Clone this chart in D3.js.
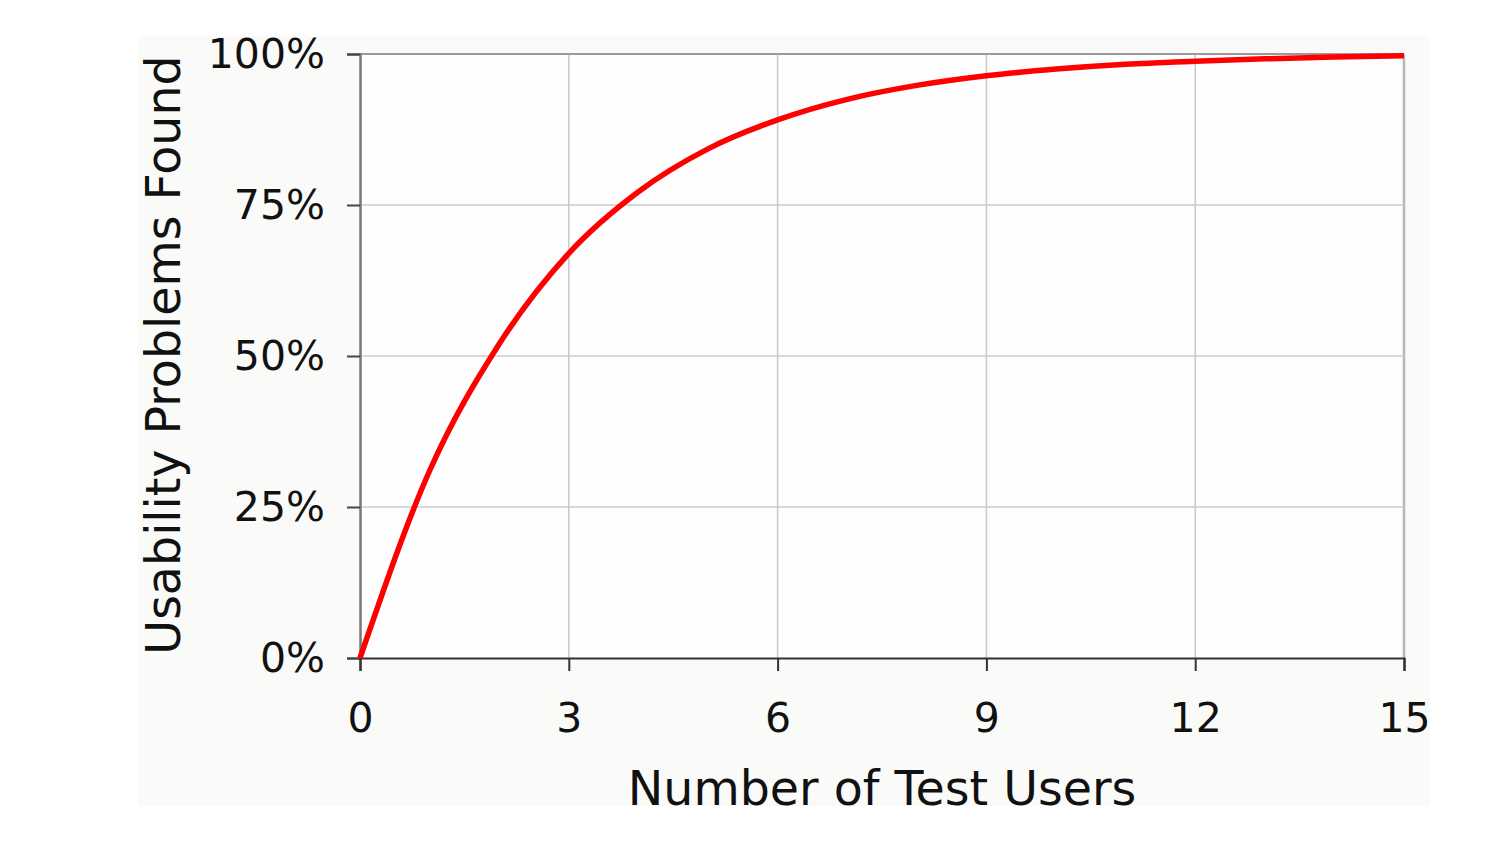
<!DOCTYPE html>
<html>
<head>
<meta charset="utf-8">
<script src="https://cdn.jsdelivr.net/npm/d3@7"></script>
<style>
  html, body { margin: 0; padding: 0; background: #ffffff; }
  svg { display: block; }
  text { font-family: "DejaVu Sans", Verdana, sans-serif; fill: #111; }
</style>
</head>
<body>
<svg id="chart" width="1500" height="864"></svg>
<script>
// ---- data ----
const users = [0, 1, 2, 3, 4, 5, 6, 7, 8, 9, 10, 11, 12, 13, 14, 15];
const found = [0, 0.31, 0.52, 0.67, 0.772, 0.843, 0.891, 0.925, 0.948, 0.964, 0.975, 0.983, 0.988, 0.992, 0.995, 0.997];
const xTicks = [0, 3, 6, 9, 12, 15];
const yTicks = [0, 0.25, 0.5, 0.75, 1];
const xTitle = "Number of Test Users";
const yTitle = "Usability Problems Found";

const svg = d3.select("#chart");

// panel background
svg.append("rect")
  .attr("x", 138).attr("y", 36).attr("width", 1292).attr("height", 770)
  .attr("fill", "#fafbf9");

const margin = { left: 360, right: 96, top: 54, bottom: 206 };
const W = 1500, H = 864;
const x = d3.scaleLinear().domain([0, 15]).range([margin.left, W - margin.right]);
const y = d3.scaleLinear().domain([0, 1]).range([H - margin.bottom, margin.top]);

// plot area
svg.append("rect")
  .attr("x", x(0)).attr("y", y(1))
  .attr("width", x(15) - x(0)).attr("height", y(0) - y(1))
  .attr("fill", "#fdfefd");

// gridlines
const grid = svg.append("g");
grid.selectAll(".vg").data(xTicks.filter(d => d > 0)).join("line")
  .attr("x1", d => x(d)).attr("x2", d => x(d))
  .attr("y1", y(0)).attr("y2", y(1))
  .attr("stroke", d => d === 15 ? "#b8b8b8" : "#cccccc")
  .attr("stroke-width", d => d === 15 ? 2.5 : 1.6);
grid.selectAll(".hg").data(yTicks.filter(d => d > 0)).join("line")
  .attr("x1", x(0)).attr("x2", x(15))
  .attr("y1", d => y(d)).attr("y2", d => y(d))
  .attr("stroke", d => d === 1 ? "#9a9a9a" : "#cccccc")
  .attr("stroke-width", d => d === 1 ? 2 : 1.6);

// y axis
const yAxis = svg.append("g")
  .attr("transform", `translate(${x(0)},0)`)
  .call(d3.axisLeft(y).tickValues(yTicks).tickFormat(d3.format(".0%")).tickSize(13).tickPadding(22));
yAxis.select(".domain").attr("stroke", "#777").attr("stroke-width", 2.5);
yAxis.selectAll(".tick line").attr("stroke", "#444").attr("stroke-width", 2);
yAxis.selectAll(".tick text")
  .style("font-family", '"DejaVu Sans", Verdana, sans-serif')
  .style("font-size", "41px").attr("fill", "#111");

// x axis
const xAxis = svg.append("g")
  .attr("transform", `translate(0,${y(0)})`)
  .call(d3.axisBottom(x).tickValues(xTicks).tickSize(13).tickPadding(32));
xAxis.select(".domain").attr("stroke", "#333").attr("stroke-width", 2.2);
xAxis.selectAll(".tick line").attr("stroke", "#333").attr("stroke-width", 2);
xAxis.selectAll(".tick text")
  .style("font-family", '"DejaVu Sans", Verdana, sans-serif')
  .style("font-size", "41px").attr("fill", "#111");

// curve
const line = d3.line()
  .x((d, i) => x(users[i]))
  .y(d => y(d))
  .curve(d3.curveMonotoneX);
svg.append("path")
  .datum(found)
  .attr("d", line)
  .attr("fill", "none")
  .attr("stroke", "#ff0000")
  .attr("stroke-width", 5.5)
  .attr("stroke-linejoin", "round");

// titles
svg.append("text")
  .attr("x", (x(0) + x(15)) / 2 + 0)
  .attr("y", 805)
  .attr("text-anchor", "middle")
  .style("font-size", "47.5px")
  .text(xTitle);

svg.append("text")
  .attr("transform", `translate(180,${(y(0) + y(1)) / 2 - 1}) rotate(-90)`)
  .attr("text-anchor", "middle")
  .style("font-size", "47.5px")
  .text(yTitle);
</script>
</body>
</html>
